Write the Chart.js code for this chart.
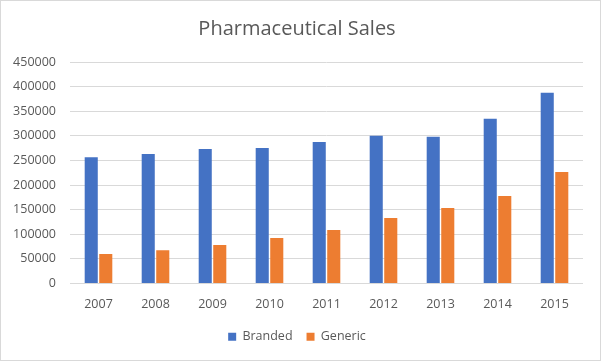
<!DOCTYPE html>
<html>
<head>
<meta charset="utf-8">
<script src="https://cdn.jsdelivr.net/npm/chart.js@4"></script>
<style>
  body { margin: 0; background: #fff; }
  #wrap { width: 599px; height: 359px; border: 1px solid #d9d9d9; position: relative; }
</style>
</head>
<body>
<div id="wrap"><canvas id="salesChart" width="599" height="359"></canvas></div>
<script>
// Datos del gráfico
const years = ['2007', '2008', '2009', '2010', '2011', '2012', '2013', '2014', '2015'];
const branded = [256500, 263300, 273500, 275500, 287700, 300000, 297900, 334500, 387500];
const generic = [59700, 67800, 78000, 92300, 108500, 133000, 153300, 177800, 226600];

const textColor = '#595959';
const fontFamily = "'Open Sans', 'Liberation Sans', sans-serif";

const ctx = document.getElementById('salesChart').getContext('2d');
const salesChart = new Chart(ctx, {
  type: 'bar',
  data: {
    labels: years,
    datasets: [
      { label: 'Branded', data: branded, backgroundColor: '#4472C4' },
      { label: 'Generic', data: generic, backgroundColor: '#ED7D31' }
    ]
  },
  options: {
    responsive: false,
    animation: false,
    categoryPercentage: 0.51,
    barPercentage: 0.9,
    layout: { padding: { left: 10, right: 17, top: 0, bottom: 7 } },
    plugins: {
      title: {
        display: true,
        text: 'Pharmaceutical Sales',
        color: textColor,
        font: { family: fontFamily, size: 20, weight: 'normal' },
        padding: { top: 16, bottom: 21 }
      },
      legend: {
        position: 'bottom',
        labels: {
          color: textColor,
          font: { family: fontFamily, size: 12.5 },
          boxWidth: 8,
          boxHeight: 8,
          padding: 14
        }
      },
      tooltip: { enabled: false }
    },
    scales: {
      x: {
        grid: { display: false },
        border: { display: false },
        ticks: { color: textColor, font: { family: fontFamily, size: 12.5 }, padding: 5 }
      },
      y: {
        min: 0,
        max: 450000,
        ticks: {
          stepSize: 50000,
          color: textColor,
          font: { family: fontFamily, size: 12.5 },
          padding: 14,
          callback: (v) => String(v) // sin separador de miles
        },
        grid: { color: '#d9d9d9', drawTicks: false },
        border: { display: false },
        afterFit: (scale) => { scale.width = 59; }
      }
    }
  }
});
</script>
</body>
</html>
